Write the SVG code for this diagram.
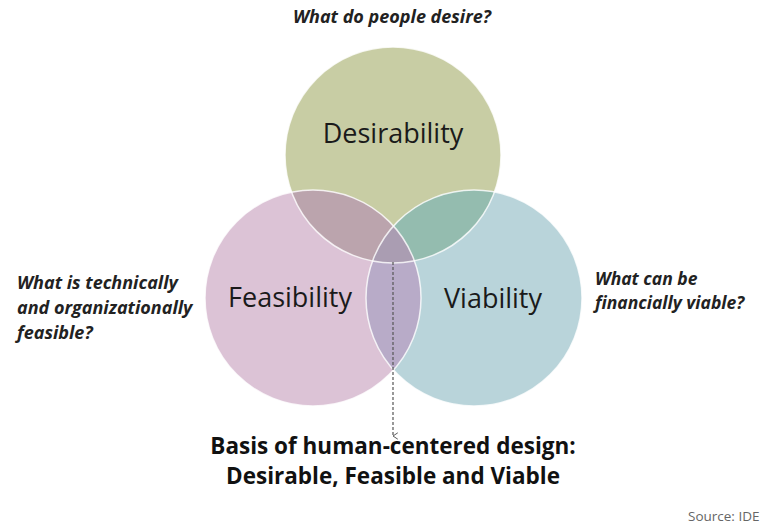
<svg xmlns="http://www.w3.org/2000/svg" width="765" height="525" viewBox="0 0 765 525">
<defs>
<clipPath id="cD"><circle cx="393" cy="155" r="108"/></clipPath>
<clipPath id="cF"><circle cx="313" cy="298" r="108"/></clipPath>
<clipPath id="cV"><circle cx="474" cy="298" r="108"/></clipPath>
<marker id="arr" viewBox="0 0 10 10" refX="5" refY="9" markerWidth="8" markerHeight="8" orient="auto" markerUnits="userSpaceOnUse">
<path d="M1,3 L5,9 L9,3" fill="none" stroke="#555" stroke-width="1.2"/>
</marker>
<style>
.q{font-family:"Open Sans","Liberation Sans",sans-serif;font-weight:bold;font-style:italic;fill:#222;}
.lbl{font-family:"Open Sans","Liberation Sans",sans-serif;font-size:27px;fill:#1a1a1a;text-anchor:middle;}
.bt{font-family:"Open Sans","Liberation Sans",sans-serif;font-weight:bold;font-size:22.5px;fill:#111;text-anchor:middle;}
.edge{fill:none;stroke:#ffffff;stroke-width:1.5;opacity:0.8;}
</style>
</defs>
<rect width="765" height="525" fill="#ffffff"/>
<g id="desirability">
<circle cx="393" cy="155" r="108" fill="#c8cda4"/>
</g>
<g id="feasibility">
<circle cx="313" cy="298" r="108" fill="#dcc3d6"/>
</g>
<g id="viability">
<circle cx="474" cy="298" r="108" fill="#b9d4da"/>
</g>
<g id="overlaps">
<g clip-path="url(#cD)"><circle cx="313" cy="298" r="108" fill="#bba4ad"/><circle cx="474" cy="298" r="108" fill="#94bcaf"/></g>
<g clip-path="url(#cF)"><circle cx="474" cy="298" r="108" fill="#b8abc8"/></g>
<g clip-path="url(#cF)"><g clip-path="url(#cV)"><circle cx="393" cy="155" r="108" fill="#aa9db2"/></g></g>
<circle class="edge" cx="393" cy="155" r="108"/>
<circle class="edge" cx="313" cy="298" r="108"/>
<circle class="edge" cx="474" cy="298" r="108"/>
</g>
<g id="labels">
<text class="lbl" x="393" y="143">Desirability</text>
<text class="lbl" x="290" y="307">Feasibility</text>
<text class="lbl" x="493" y="308">Viability</text>
</g>
<g id="questions">
<text class="q" x="392" y="23" font-size="18" text-anchor="middle">What do people desire?</text>
<text class="q" font-size="18"><tspan x="17" y="289">What is technically</tspan><tspan x="17" y="314">and organizationally</tspan><tspan x="17" y="339">feasible?</tspan></text>
<text class="q" font-size="17.5"><tspan x="595" y="285">What can be</tspan><tspan x="595" y="309">financially viable?</tspan></text>
</g>
<g id="connectors">
<line x1="393" y1="262" x2="393" y2="436" stroke="#555" stroke-width="1.2" stroke-dasharray="3,2" marker-end="url(#arr)"/>
</g>
<g id="caption">
<text class="bt" x="393" y="454">Basis of human-centered design:</text>
<text class="bt" x="393" y="484">Desirable, Feasible and Viable</text>
</g>
<text x="688" y="521" font-family="Open Sans, Liberation Sans, sans-serif" font-size="13.5" fill="#666">Source: IDE</text>
</svg>
